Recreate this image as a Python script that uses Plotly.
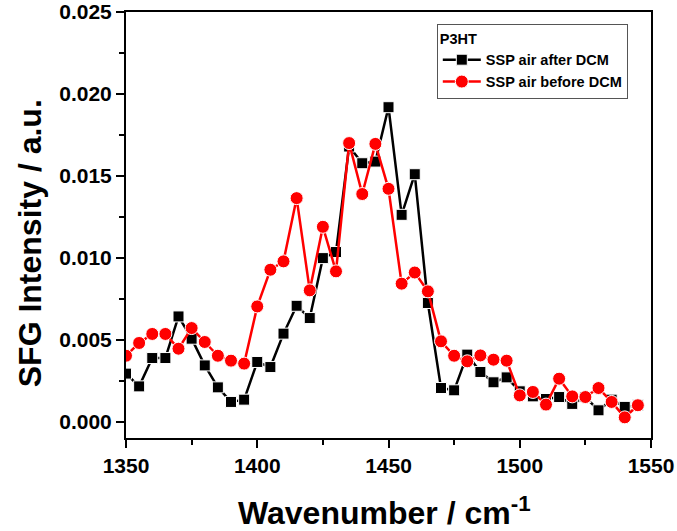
import plotly.graph_objects as go

wavenumber = list(range(1350, 1550, 5))

after_dcm = [0.00293, 0.00215, 0.00388, 0.00388, 0.00642, 0.00506, 0.00343, 0.00209,
             0.00120, 0.00134, 0.00364, 0.00333, 0.00537, 0.00707, 0.00632, 0.00998,
             0.01035, 0.01679, 0.01577, 0.01587, 0.01919, 0.01262, 0.01510, 0.00724,
             0.00205, 0.00191, 0.00409, 0.00303, 0.00240, 0.00270, 0.00185, 0.00154,
             0.00138, 0.00150, 0.00108, 0.00150, 0.00069, 0.00134, 0.00090, 0.00100]

before_dcm = [0.00402, 0.00480, 0.00535, 0.00535, 0.00445, 0.00571, 0.00486, 0.00402,
              0.00372, 0.00354, 0.00703, 0.00927, 0.00978, 0.01364, 0.00801, 0.01189,
              0.00917, 0.01700, 0.01389, 0.01695, 0.01421, 0.00842, 0.00910, 0.00795,
              0.00490, 0.00402, 0.00368, 0.00404, 0.00378, 0.00372, 0.00160, 0.00181,
              0.00104, 0.00262, 0.00154, 0.00150, 0.00205, 0.00120, 0.00026, 0.00100]

x_ticks = [1350, 1400, 1450, 1500, 1550]
y_ticks = [0.000, 0.005, 0.010, 0.015, 0.020, 0.025]

x_title = "Wavenumber / cm<sup>-1</sup>"
y_title = "SFG Intensity / a.u."

FONT = "Liberation Sans, Arial, sans-serif"

fig = go.Figure()
fig.add_trace(go.Scatter(
    x=wavenumber, y=after_dcm, mode="lines+markers", name="SSP air after DCM",
    line=dict(color="black", width=2.5),
    marker=dict(symbol="square", size=11, color="black", line=dict(color="white", width=1)),
))
fig.add_trace(go.Scatter(
    x=wavenumber, y=before_dcm, mode="lines+markers", name="SSP air before DCM",
    line=dict(color="red", width=2.5),
    marker=dict(symbol="circle", size=13, color="red", line=dict(color="white", width=1)),
))

axis_common = dict(
    showline=True, linecolor="black", linewidth=2, mirror=True,
    ticks="outside", tickcolor="black", tickwidth=2, ticklen=8,
    showgrid=False, zeroline=False, automargin=False, ticklabeloverflow="allow",
    tickfont=dict(family=FONT, size=21, color="black", weight="bold"),
)

fig.update_xaxes(
    range=[1350, 1550], tickvals=x_ticks,
    minor=dict(dtick=25, ticks="outside", ticklen=5, tickwidth=2, tickcolor="black"),
    **axis_common,
)
fig.update_yaxes(
    range=[-0.001, 0.025], tickvals=y_ticks, tickformat=".3f",
    minor=dict(dtick=0.0025, ticks="outside", ticklen=5, tickwidth=2, tickcolor="black"),
    **axis_common,
)

title_font = dict(family=FONT, size=32, color="black", weight="bold")
fig.add_annotation(text=x_title, xref="paper", yref="paper", x=0.493, y=-0.172,
                   xanchor="center", yanchor="middle", showarrow=False, font=title_font)
fig.add_annotation(text=y_title, xref="paper", yref="paper", x=-0.183, y=0.457,
                   xanchor="center", yanchor="middle", textangle=-90, showarrow=False,
                   font=title_font)

fig.update_layout(
    width=677, height=531,
    margin=dict(l=126, r=26, t=12, b=93),
    paper_bgcolor="white", plot_bgcolor="white",
    showlegend=True,
    legend=dict(
        title=dict(text="P3HT", font=dict(family=FONT, size=14.5, color="black", weight="bold")),
        x=0.592, y=0.972, xanchor="left", yanchor="top",
        bgcolor="white", bordercolor="#555555", borderwidth=1,
        font=dict(family=FONT, size=14.5, color="black", weight="bold"),
        tracegroupgap=0, itemwidth=38,
    ),
)

fig.write_html("out.html")
